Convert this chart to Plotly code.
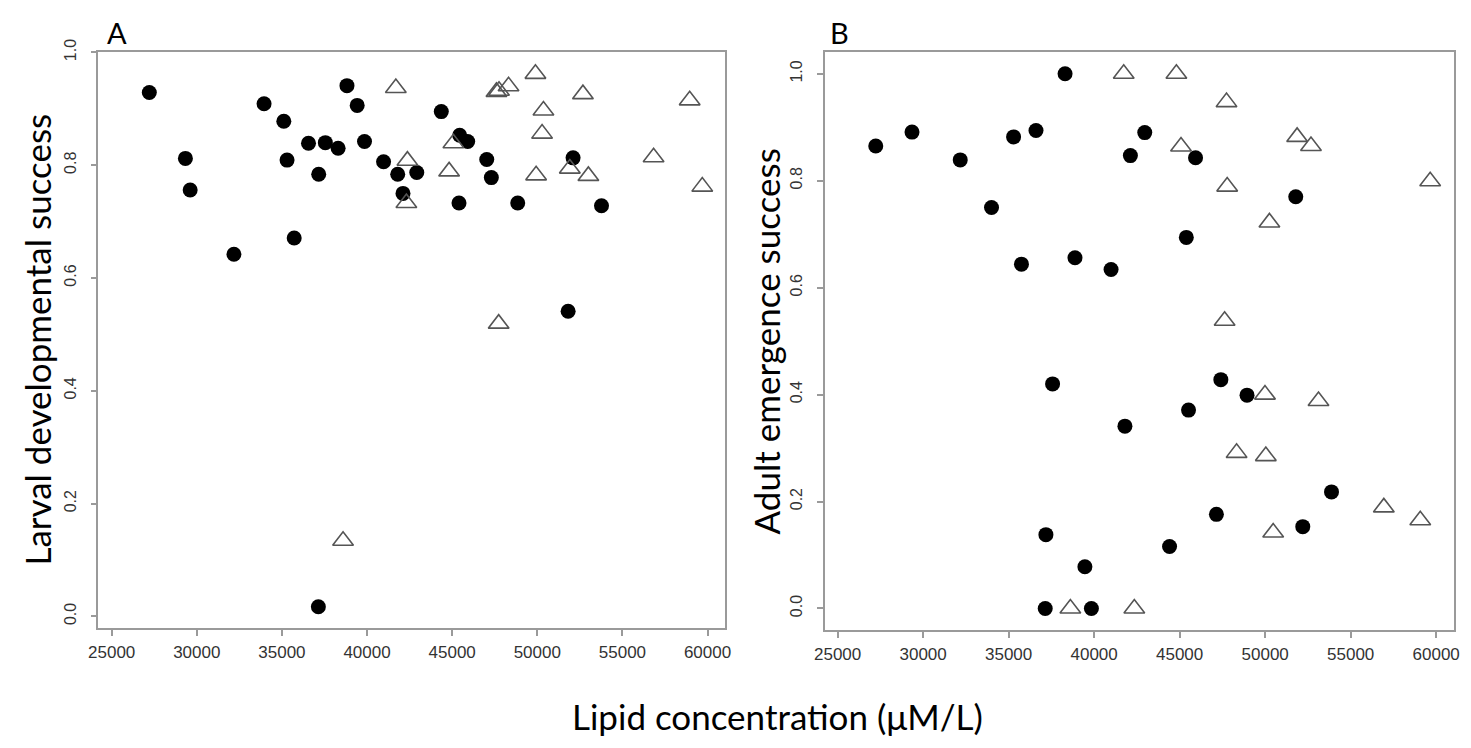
import plotly.graph_objects as go

# Panel A: larval developmental success vs lipid concentration
a_circle_x = [27210, 29330, 29610, 32180, 33950, 35110, 35300, 35720, 36560, 37140,
              37160, 37550, 38300, 38820, 39420, 39850, 40970, 41800, 42110, 42920,
              44360, 45400, 45440, 45910, 47030, 47300, 48850, 51810, 52100, 53770]
a_circle_y = [0.929, 0.812, 0.756, 0.642, 0.909, 0.878, 0.809, 0.671, 0.839, 0.017,
              0.784, 0.840, 0.830, 0.941, 0.906, 0.842, 0.806, 0.784, 0.750, 0.787,
              0.895, 0.733, 0.853, 0.842, 0.810, 0.778, 0.733, 0.541, 0.813, 0.728]

a_tri_x = [38590, 41690, 42310, 42370, 44820, 45070, 47600, 47730, 47750, 48310,
           49890, 49930, 50280, 50360, 51910, 52680, 53000, 56830, 58950, 59690]
a_tri_y = [0.134, 0.937, 0.733, 0.808, 0.789, 0.839, 0.930, 0.519, 0.932, 0.940,
           0.962, 0.782, 0.856, 0.897, 0.794, 0.926, 0.781, 0.814, 0.915, 0.762]

# Panel B: adult emergence success vs lipid concentration
b_circle_x = [27230, 29350, 32170, 34000, 35290, 35750, 36600, 37140, 37180, 37570,
              38300, 38880, 39460, 39840, 40990, 41800, 42120, 42960, 44410, 45390,
              45520, 45930, 47150, 47410, 48940, 51790, 52200, 53880]
b_circle_y = [0.865, 0.891, 0.839, 0.750, 0.882, 0.644, 0.894, 0.000, 0.138, 0.420,
              1.000, 0.656, 0.078, 0.000, 0.634, 0.341, 0.847, 0.890, 0.116, 0.694,
              0.371, 0.843, 0.176, 0.428, 0.399, 0.770, 0.153, 0.218]

b_tri_x = [38610, 41730, 42350, 44810, 45080, 47630, 47740, 47780, 48330, 49990,
           50040, 50250, 50470, 51870, 52680, 53120, 56940, 59070, 59650]
b_tri_y = [0.000, 1.000, 0.000, 1.000, 0.864, 0.538, 0.947, 0.789, 0.291, 0.400,
           0.285, 0.722, 0.142, 0.882, 0.865, 0.388, 0.189, 0.165, 0.799]

x_ticks = [25000, 30000, 35000, 40000, 45000, 50000, 55000, 60000]
y_ticks = [0.0, 0.2, 0.4, 0.6, 0.8, 1.0]
y_tick_labels = ["0.0", "0.2", "0.4", "0.6", "0.8", "1.0"]

# page body has an 8px margin, so the figure sits at (8, 8) in the window
W, H = 1455, 732
OFF = 8


def fx(px):
    return (px - OFF) / W


def fy(py):
    return 1 - (py - OFF) / H


line_col = "#9a9a9a"
tick_col = "#333333"
title_font = "Lato, Open Sans, sans-serif"

circle_marker = dict(symbol="circle", size=15, color="black", line=dict(width=0))
tri_marker = dict(symbol="triangle-up-open", size=18, color="#555555",
                  line=dict(width=1.6, color="#555555"))

fig = go.Figure()

fig.add_trace(go.Scatter(x=a_circle_x, y=a_circle_y, mode="markers",
                         marker=circle_marker, xaxis="x", yaxis="y"))
fig.add_trace(go.Scatter(x=a_tri_x, y=a_tri_y, mode="markers",
                         marker=tri_marker, xaxis="x", yaxis="y"))
fig.add_trace(go.Scatter(x=b_circle_x, y=b_circle_y, mode="markers",
                         marker=circle_marker, xaxis="x2", yaxis="y2"))
fig.add_trace(go.Scatter(x=b_tri_x, y=b_tri_y, mode="markers",
                         marker=tri_marker, xaxis="x2", yaxis="y2"))

common_x = dict(
    tickvals=x_ticks, ticktext=[str(v) for v in x_ticks],
    showline=True, linecolor=line_col, linewidth=1.5, mirror=True,
    ticks="outside", ticklen=6, tickwidth=1.5, tickcolor=line_col,
    showgrid=False, zeroline=False, ticklabelstandoff=2,
    tickfont=dict(family="Liberation Sans, Arial, sans-serif", size=17, color=tick_col),
)
common_y = dict(
    tickvals=y_ticks, ticktext=y_tick_labels, tickangle=-90,
    showline=True, linecolor=line_col, linewidth=1.5, mirror=True,
    ticks="outside", ticklen=6, tickwidth=1.5, tickcolor=line_col,
    showgrid=False, zeroline=False, ticklabelstandoff=8,
    tickfont=dict(family="Liberation Sans, Arial, sans-serif", size=16, color=tick_col),
)

fig.update_layout(
    width=W, height=H,
    paper_bgcolor="white", plot_bgcolor="white",
    showlegend=False,
    margin=dict(l=0, r=0, t=0, b=0),
    xaxis=dict(domain=[fx(89.3), fx(723.3)], range=[24220, 61050], anchor="y", **common_x),
    yaxis=dict(domain=[fy(626), fy(39)], range=[-0.021, 1.0], anchor="x", **common_y),
    xaxis2=dict(domain=[fx(823.5), fx(1460)], range=[24235, 61045], anchor="y2", **common_x),
    yaxis2=dict(domain=[fy(627.7), fy(39)], range=[-0.04, 1.04], anchor="x2", **common_y),
)

annotations = [
    dict(text="A", x=fx(108), y=fy(19), font=dict(size=29)),
    dict(text="B", x=fx(839), y=fy(19), font=dict(size=29)),
    dict(text="Larval developmental success", x=fx(27), y=fy(332),
         textangle=-90, font=dict(size=35)),
    dict(text="Adult emergence success", x=fx(764), y=fy(334),
         textangle=-90, font=dict(size=35)),
    dict(text="Lipid concentration (\u03bcM/L)", x=fx(776), y=fy(716),
         font=dict(size=35)),
]
for a in annotations:
    a["font"].update(family=title_font, color="black")
    fig.add_annotation(xref="paper", yref="paper", showarrow=False,
                       xanchor="center", yanchor="middle", **a)

fig.write_html("out.html")
